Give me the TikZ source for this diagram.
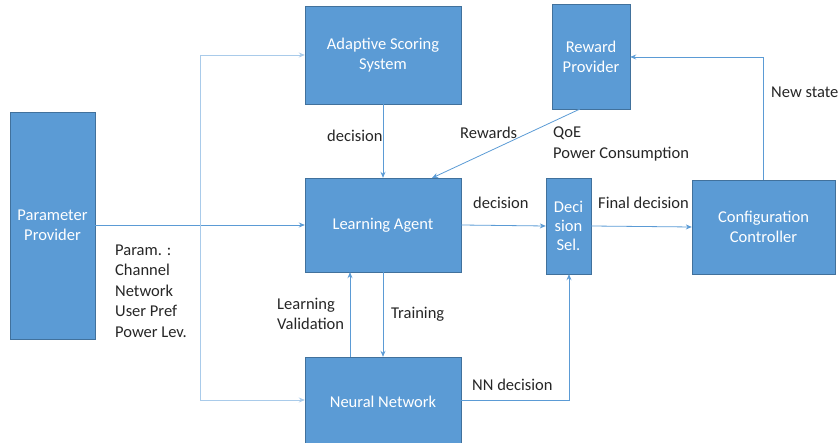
\documentclass[tikz,border=0pt]{standalone}
\usepackage{fontspec}
\setmainfont{Carlito}
\usetikzlibrary{arrows.meta}
\definecolor{boxfill}{HTML}{5B9BD5}
\definecolor{boxline}{HTML}{41719C}
\definecolor{lnk}{HTML}{5B9BD5}
\definecolor{lnklight}{HTML}{A9CBEA}
\begin{document}
\begin{tikzpicture}[x=1pt,y=-1pt,
  blk/.style={draw=boxline,fill=boxfill,text=white,align=center,inner sep=0pt,font=\fontsize{16.5}{20}\selectfont},
  lbl/.style={text=black!85,align=left,inner sep=0pt,font=\fontsize{16.5}{20.5}\selectfont},
  con/.style={draw=lnk,line width=0.8pt,-{Stealth[length=6pt,width=5pt]}},
  conl/.style={draw=lnklight,line width=0.8pt,-{Stealth[length=6pt,width=5pt]}}]
\useasboundingbox (0,0) rectangle (839,443);
% blocks
\node[blk,minimum width=85,minimum height=227] (pp) at (52.5,225.5) {Parameter\\Provider};
\node[blk,minimum width=156,minimum height=98] (ass) at (383,55) {Adaptive Scoring\\System};
\node[blk,minimum width=78,minimum height=105] (rp) at (591,56.5) {Reward\\Provider};
\node[blk,minimum width=156,minimum height=94] (la) at (383,225) {Learning Agent};
\node[blk,minimum width=45,minimum height=96,font=\fontsize{16.5}{19}\selectfont] (ds) at (568.5,226) {Deci\\sion\\Sel.};
\node[blk,minimum width=143,minimum height=94] (cc) at (763.5,227) {Configuration\\Controller};
\node[blk,minimum width=156,minimum height=90] (nn) at (383,402) {Neural Network};
% helper coordinates
\coordinate (v1) at (200,55);
\coordinate (v2) at (200,400);
\coordinate (ccup) at (763,57);
\coordinate (nncorner) at (569,400);
% connectors
\draw[con] (pp.east |- 0,225) -- (la.west |- 0,225);
\draw[conl] (v1) -- (ass.west |- v1);
\draw[conl] (v1) -- (v2) -- (nn.west |- v2);
\draw[con] (ass.south) -- (la.north);
\draw[con] (580,109) -- (432,178);
\draw[con] (la.east |- 0,225) -- (ds.west |- 0,226);
\draw[con] (ds.east |- 0,226) -- (cc.west |- 0,227);
\draw[con] (cc.north -| ccup) -- (ccup) -- (rp.east |- ccup);
\draw[con] (la.south) -- (nn.north);
\draw[con] (nn.north -| 350,0) -- (la.south -| 350,0);
\draw[con] (nn.east |- nncorner) -- (nncorner) -- (ds.south -| nncorner);
% labels
\node[lbl,anchor=west] (l1) at (327,136) {decision};
\node[lbl,anchor=west] (l2) at (460,133) {Rewards};
\node[lbl,anchor=west] (l3) at (553,144) {QoE\\Power Consumption};
\node[lbl,anchor=west] (l4) at (473,203) {decision};
\node[lbl,anchor=west] (l5) at (598,203) {Final decision};
\node[lbl,anchor=west] (l6) at (771,92) {New state};
\node[lbl,anchor=west] (l7) at (115,291) {Param. :\\Channel\\Network\\User Pref\\Power Lev.};
\node[lbl,anchor=west] (l8) at (277,314) {Learning\\Validation};
\node[lbl,anchor=west] (l9) at (391,314) {Training};
\node[lbl,anchor=west] (l10) at (472,385) {NN decision};
\end{tikzpicture}
\end{document}
